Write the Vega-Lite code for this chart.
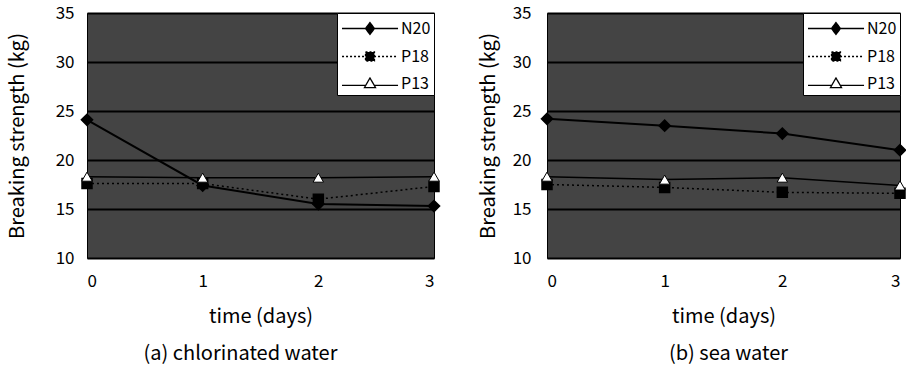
{
  "$schema": "https://vega.github.io/schema/vega-lite/v6.json",
  "padding": {"left": 6, "top": 3, "right": 0, "bottom": 0},
  "background": "white",
  "spacing": 31,
  "data": {"values": [
    {"panel": "a", "series": "N20", "day": 0, "value": 24.1},
    {"panel": "a", "series": "N20", "day": 1, "value": 17.4},
    {"panel": "a", "series": "N20", "day": 2, "value": 15.5},
    {"panel": "a", "series": "N20", "day": 3, "value": 15.3},
    {"panel": "a", "series": "P18", "day": 0, "value": 17.6},
    {"panel": "a", "series": "P18", "day": 1, "value": 17.6},
    {"panel": "a", "series": "P18", "day": 2, "value": 16.0},
    {"panel": "a", "series": "P18", "day": 3, "value": 17.3},
    {"panel": "a", "series": "P13", "day": 0, "value": 18.3},
    {"panel": "a", "series": "P13", "day": 1, "value": 18.2},
    {"panel": "a", "series": "P13", "day": 2, "value": 18.2},
    {"panel": "a", "series": "P13", "day": 3, "value": 18.3},
    {"panel": "b", "series": "N20", "day": 0, "value": 24.2},
    {"panel": "b", "series": "N20", "day": 1, "value": 23.5},
    {"panel": "b", "series": "N20", "day": 2, "value": 22.7},
    {"panel": "b", "series": "N20", "day": 3, "value": 21.0},
    {"panel": "b", "series": "P18", "day": 0, "value": 17.5},
    {"panel": "b", "series": "P18", "day": 1, "value": 17.2},
    {"panel": "b", "series": "P18", "day": 2, "value": 16.7},
    {"panel": "b", "series": "P18", "day": 3, "value": 16.6},
    {"panel": "b", "series": "P13", "day": 0, "value": 18.3},
    {"panel": "b", "series": "P13", "day": 1, "value": 18.0},
    {"panel": "b", "series": "P13", "day": 2, "value": 18.2},
    {"panel": "b", "series": "P13", "day": 3, "value": 17.4}
  ]},
  "resolve": {"scale": {"shape": "independent", "fill": "independent", "stroke": "independent", "strokeDash": "independent"}},
  "hconcat": [
    {
      "width": 347, "height": 245,
      "title": {"text": "(a) chlorinated water", "orient": "bottom", "dx": -20},
      "transform": [{"filter": "datum.panel === 'a'"}],
      "encoding": {
        "x": {"field": "day", "type": "quantitative", "scale": {"domain": [0, 3], "nice": false}, "axis": {"values": [0, 1, 2, 3], "grid": false, "title": "time (days)", "labelPadding": 15, "titlePadding": 17}},
        "y": {"field": "value", "type": "quantitative", "scale": {"domain": [10, 35], "nice": false, "zero": false}, "axis": {"values": [10, 15, 20, 25, 30, 35], "title": "Breaking strength (kg)", "labelPadding": 13, "titlePadding": 28}}
      },
      "layer": [
        {"transform": [{"filter": "datum.series === 'N20'"}], "mark": {"type": "line", "color": "black", "strokeWidth": 2}},
        {"transform": [{"filter": "datum.series === 'P18'"}], "mark": {"type": "line", "color": "black", "strokeWidth": 1.5, "strokeDash": [2, 3]}},
        {"transform": [{"filter": "datum.series === 'P13'"}], "mark": {"type": "line", "color": "black", "strokeWidth": 1.5}},
        {"transform": [{"filter": "datum.series === 'N20'"}], "mark": {"type": "point", "shape": "diamond", "filled": true, "fill": "black", "stroke": "black", "size": 110, "opacity": 1}},
        {"transform": [{"filter": "datum.series === 'P18'"}], "mark": {"type": "point", "shape": "square", "filled": true, "fill": "black", "stroke": "black", "size": 90, "opacity": 1}},
        {"transform": [{"filter": "datum.series === 'P13'"}], "mark": {"type": "point", "shape": "triangle-up", "filled": true, "fill": "white", "stroke": "black", "strokeWidth": 1, "size": 110, "opacity": 1}},
        {
          "mark": {"type": "point", "filled": true, "opacity": 0, "strokeWidth": 1.3},
          "encoding": {
            "shape": {"field": "series", "type": "nominal", "scale": {"domain": ["N20", "P18", "P13"], "range": ["M-0.91,0H3.96M1.52,-0.52L1.91,0L1.52,0.52L1.13,0Z", "M-0.91,0H3.96M1.13,-0.39H1.91V0.39H1.13Z", "M-0.91,0.17H1.11M1.93,0.17H3.96M1.52,-0.48L2,0.35H1.04Z"]},
              "legend": {"orient": "top-right", "title": null, "offset": 0, "symbolSize": 529, "symbolOpacity": 1, "symbolStrokeWidth": 1.3, "labelOffset": 36, "labelFontSize": 16, "labelColor": "black", "fillColor": "white", "strokeColor": "black", "padding": 3, "rowPadding": 6}},
            "fill": {"field": "series", "type": "nominal", "scale": {"domain": ["N20", "P18", "P13"], "range": ["black", "black", "white"]},
              "legend": {"orient": "top-right", "title": null, "offset": 0, "symbolSize": 529, "symbolOpacity": 1, "symbolStrokeWidth": 1.3, "labelOffset": 36, "labelFontSize": 16, "labelColor": "black", "fillColor": "white", "strokeColor": "black", "padding": 3, "rowPadding": 6}},
            "stroke": {"field": "series", "type": "nominal", "scale": {"domain": ["N20", "P18", "P13"], "range": ["black", "black", "black"]},
              "legend": {"orient": "top-right", "title": null, "offset": 0, "symbolSize": 529, "symbolOpacity": 1, "symbolStrokeWidth": 1.3, "labelOffset": 36, "labelFontSize": 16, "labelColor": "black", "fillColor": "white", "strokeColor": "black", "padding": 3, "rowPadding": 6}},
            "strokeDash": {"field": "series", "type": "nominal", "scale": {"domain": ["N20", "P18", "P13"], "range": [[1, 0], [2, 2], [1, 0]]},
              "legend": {"orient": "top-right", "title": null, "offset": 0, "symbolSize": 529, "symbolOpacity": 1, "symbolStrokeWidth": 1.3, "labelOffset": 36, "labelFontSize": 16, "labelColor": "black", "fillColor": "white", "strokeColor": "black", "padding": 3, "rowPadding": 6}}
          }
        }
      ]
    },
    {
      "width": 353, "height": 245,
      "title": {"text": "(b) sea water", "orient": "bottom", "dx": 5},
      "transform": [{"filter": "datum.panel === 'b'"}],
      "encoding": {
        "x": {"field": "day", "type": "quantitative", "scale": {"domain": [0, 3], "nice": false}, "axis": {"values": [0, 1, 2, 3], "grid": false, "title": "time (days)", "labelPadding": 15, "titlePadding": 17}},
        "y": {"field": "value", "type": "quantitative", "scale": {"domain": [10, 35], "nice": false, "zero": false}, "axis": {"values": [10, 15, 20, 25, 30, 35], "title": "Breaking strength (kg)", "labelPadding": 16, "titlePadding": 14}}
      },
      "layer": [
        {"transform": [{"filter": "datum.series === 'N20'"}], "mark": {"type": "line", "color": "black", "strokeWidth": 2}},
        {"transform": [{"filter": "datum.series === 'P18'"}], "mark": {"type": "line", "color": "black", "strokeWidth": 1.5, "strokeDash": [2, 3]}},
        {"transform": [{"filter": "datum.series === 'P13'"}], "mark": {"type": "line", "color": "black", "strokeWidth": 1.5}},
        {"transform": [{"filter": "datum.series === 'N20'"}], "mark": {"type": "point", "shape": "diamond", "filled": true, "fill": "black", "stroke": "black", "size": 110, "opacity": 1}},
        {"transform": [{"filter": "datum.series === 'P18'"}], "mark": {"type": "point", "shape": "square", "filled": true, "fill": "black", "stroke": "black", "size": 90, "opacity": 1}},
        {"transform": [{"filter": "datum.series === 'P13'"}], "mark": {"type": "point", "shape": "triangle-up", "filled": true, "fill": "white", "stroke": "black", "strokeWidth": 1, "size": 110, "opacity": 1}},
        {
          "mark": {"type": "point", "filled": true, "opacity": 0, "strokeWidth": 1.3},
          "encoding": {
            "shape": {"field": "series", "type": "nominal", "scale": {"domain": ["N20", "P18", "P13"], "range": ["M-0.91,0H3.96M1.52,-0.52L1.91,0L1.52,0.52L1.13,0Z", "M-0.91,0H3.96M1.13,-0.39H1.91V0.39H1.13Z", "M-0.91,0.17H1.11M1.93,0.17H3.96M1.52,-0.48L2,0.35H1.04Z"]},
              "legend": {"orient": "top-right", "title": null, "offset": 0, "symbolSize": 529, "symbolOpacity": 1, "symbolStrokeWidth": 1.3, "labelOffset": 36, "labelFontSize": 16, "labelColor": "black", "fillColor": "white", "strokeColor": "black", "padding": 3, "rowPadding": 6}},
            "fill": {"field": "series", "type": "nominal", "scale": {"domain": ["N20", "P18", "P13"], "range": ["black", "black", "white"]},
              "legend": {"orient": "top-right", "title": null, "offset": 0, "symbolSize": 529, "symbolOpacity": 1, "symbolStrokeWidth": 1.3, "labelOffset": 36, "labelFontSize": 16, "labelColor": "black", "fillColor": "white", "strokeColor": "black", "padding": 3, "rowPadding": 6}},
            "stroke": {"field": "series", "type": "nominal", "scale": {"domain": ["N20", "P18", "P13"], "range": ["black", "black", "black"]},
              "legend": {"orient": "top-right", "title": null, "offset": 0, "symbolSize": 529, "symbolOpacity": 1, "symbolStrokeWidth": 1.3, "labelOffset": 36, "labelFontSize": 16, "labelColor": "black", "fillColor": "white", "strokeColor": "black", "padding": 3, "rowPadding": 6}},
            "strokeDash": {"field": "series", "type": "nominal", "scale": {"domain": ["N20", "P18", "P13"], "range": [[1, 0], [2, 2], [1, 0]]},
              "legend": {"orient": "top-right", "title": null, "offset": 0, "symbolSize": 529, "symbolOpacity": 1, "symbolStrokeWidth": 1.3, "labelOffset": 36, "labelFontSize": 16, "labelColor": "black", "fillColor": "white", "strokeColor": "black", "padding": 3, "rowPadding": 6}}
          }
        }
      ]
    }
  ],
  "config": {
    "font": "Noto Sans CJK KR",
    "view": {"fill": "#444444", "stroke": "black", "strokeWidth": 1},
    "axis": {"grid": true, "gridColor": "black", "gridWidth": 2, "gridOpacity": 1, "domain": false, "ticks": false, "labelFontSize": 17, "labelColor": "black", "titleFontSize": 20, "titleFontWeight": "normal", "titleColor": "black"},
    "title": {"fontSize": 20, "fontWeight": "normal", "color": "black", "offset": 18}
  }
}
